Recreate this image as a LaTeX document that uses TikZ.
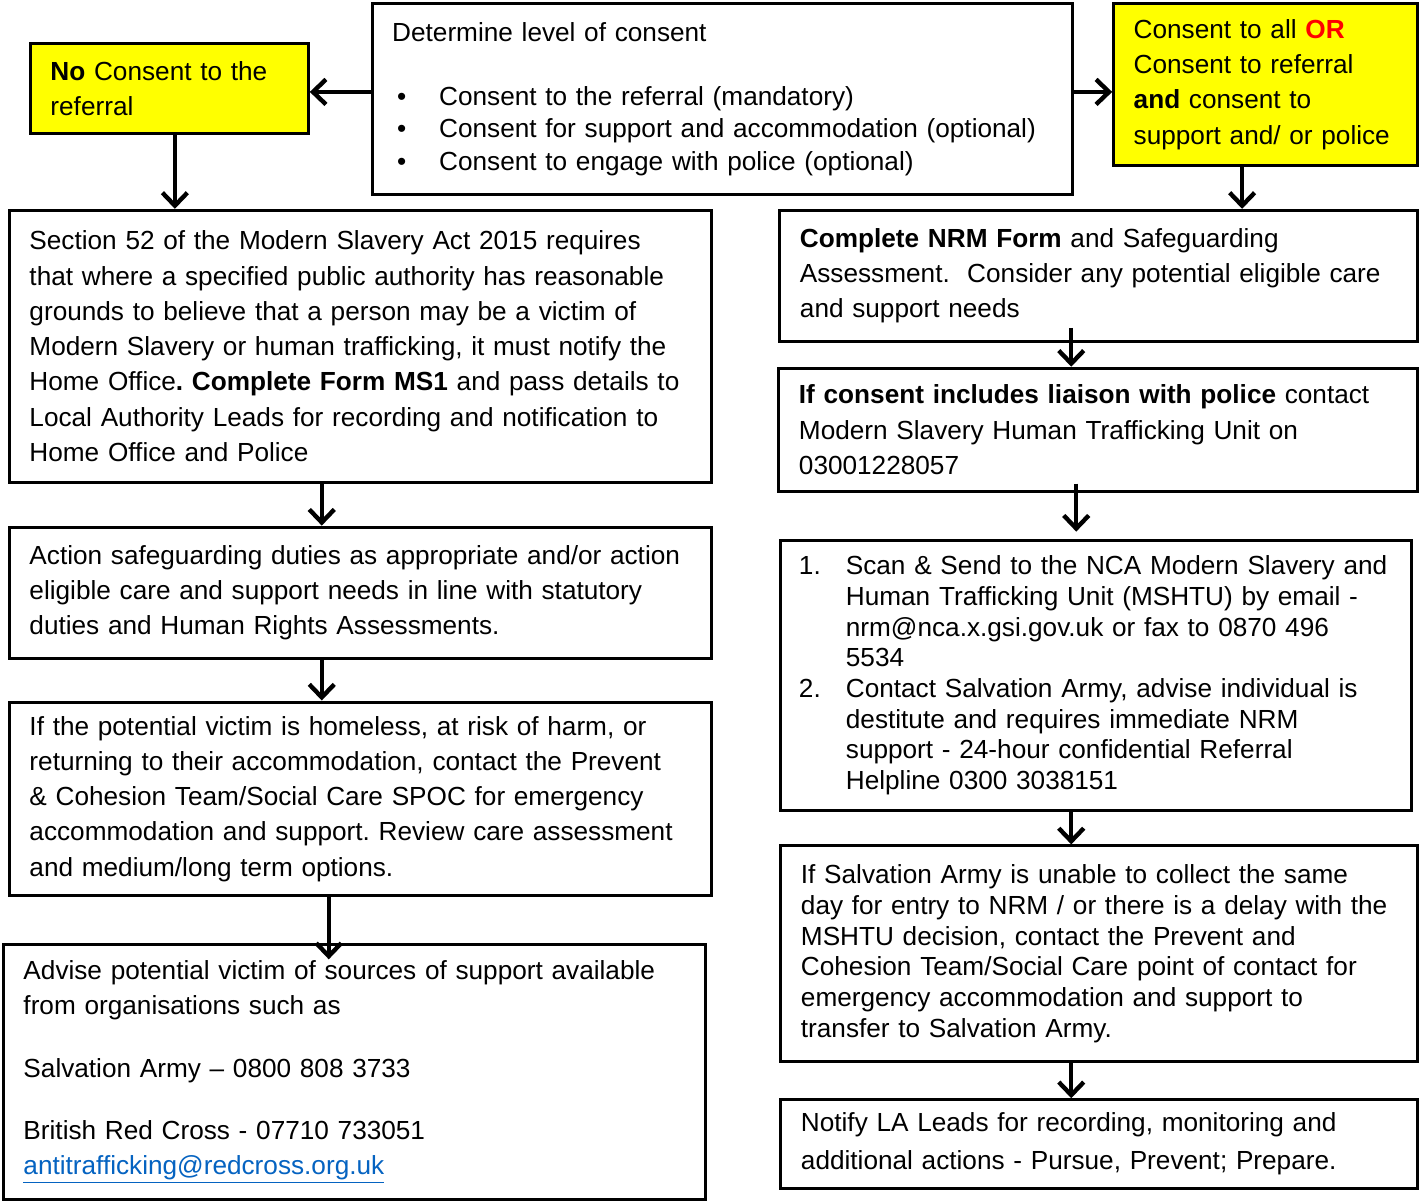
\documentclass[tikz,border=0pt]{standalone}
\usepackage{fontspec}
\setmainfont{Liberation Sans}
\usetikzlibrary{arrows.meta}
\definecolor{linkblue}{RGB}{5,99,193}
\definecolor{consyellow}{RGB}{255,255,0}
\newcommand\bul{\hspace*{2.5pt}\makebox[21pt][l]{\textbullet}}
\newcommand\itemno[1]{\makebox[23.5pt][l]{#1}}
\newcommand\listind{\hspace*{23.5pt}}
\frenchspacing

\tikzset{
  stepbox/.style={draw, line width=1.5pt, anchor=north west, inner xsep=10pt, inner ysep=0pt,
    align=left, font=\fontsize{13.1}{17.65}\selectfont},
  consbox/.style={stepbox, fill=consyellow},
  flow/.style={line width=2.2pt, -{Straight Barb[length=6.5pt,width=12.5pt]}}
}

\begin{document}
\begin{tikzpicture}[x=0.5pt,y=-0.5pt]
\fill[white] (0,0) rectangle (1419,1200);

% top row
\node[stepbox, minimum width=350.5pt, minimum height=95.5pt, text width=330.5pt,
  font=\fontsize{13.1}{16.25}\selectfont] (cons) at (371,2)
  {Determine level of consent\\[15.75pt]
   \bul Consent to the referral (mandatory)\\
   \bul Consent for support and accommodation (optional)\\
   \bul Consent to engage with police (optional)};
\node[consbox, minimum width=139pt, minimum height=45pt, text width=119pt] (nocons) at (29,42)
  {\textbf{No} Consent to the\\referral};
\node[consbox, minimum width=152pt, minimum height=81pt, text width=132pt] (allcons) at (1113,2)
  {Consent to all \textcolor{red}{\textbf{OR}}\\Consent to referral\\\textbf{and} consent to\\support and/ or police};

% left column
\node[stepbox, minimum width=351pt, minimum height=136pt, text width=331pt] (sec) at (8,209)
  {Section 52 of the Modern Slavery Act 2015 requires\\
   that where a specified public authority has reasonable\\
   grounds to believe that a person may be a victim of\\
   Modern Slavery or human trafficking, it must notify the\\
   Home Office\textbf{. Complete Form MS1} and pass details to\\
   Local Authority Leads for recording and notification to\\
   Home Office and Police};
\node[stepbox, minimum width=351pt, minimum height=65.5pt, text width=331pt] (act) at (8,526)
  {Action safeguarding duties as appropriate and/or action\\
   eligible care and support needs in line with statutory\\
   duties and Human Rights Assessments.};
\node[stepbox, minimum width=351pt, minimum height=97pt, text width=331pt] (home) at (8,701)
  {If the potential victim is homeless, at risk of harm, or\\
   returning to their accommodation, contact the Prevent\\
   \& Cohesion Team/Social Care SPOC for emergency\\
   accommodation and support. Review care assessment\\
   and medium/long term options.};
\node[stepbox, minimum width=351pt, minimum height=127.5pt, text width=331pt] (advise) at (2,944)
  {Advise potential victim of sources of support available\\
   from organisations such as\\[13.4pt]
   Salvation Army – 0800 808 3733\\[13.4pt]
   British Red Cross - 07710 733051\\
   {\color{linkblue}\underline{antitrafficking@redcross.org.uk}}};

% right column
\node[stepbox, minimum width=319pt, minimum height=65.5pt, text width=299pt] (nrm) at (779,209)
  {\textbf{Complete NRM Form} and Safeguarding\\
   Assessment.\ \ Consider any potential eligible care\\
   and support needs};
\node[stepbox, minimum width=319.5pt, minimum height=61.5pt, text width=299.5pt] (pol) at (778,367)
  {\textbf{If consent includes liaison with police} contact\\
   Modern Slavery Human Trafficking Unit on\\
   03001228057};
\node[stepbox, minimum width=315.5pt, minimum height=135.5pt, text width=297.5pt, inner xsep=9pt,
  font=\fontsize{13.1}{15.35}\selectfont] (scan) at (780,539)
  {\itemno{1.}Scan \& Send to the NCA Modern Slavery and\\
   \listind Human Trafficking Unit (MSHTU) by email -\\
   \listind nrm@nca.x.gsi.gov.uk or fax to 0870 496\\
   \listind 5534\\
   \itemno{2.}Contact Salvation Army, advise individual is\\
   \listind destitute and requires immediate NRM\\
   \listind support - 24-hour confidential Referral\\
   \listind Helpline 0300 3038151};
\node[stepbox, minimum width=318.5pt, minimum height=108pt, text width=298.5pt,
  font=\fontsize{13.1}{15.35}\selectfont] (sa) at (780,845)
  {If Salvation Army is unable to collect the same\\
   day for entry to NRM / or there is a delay with the\\
   MSHTU decision, contact the Prevent and\\
   Cohesion Team/Social Care point of contact for\\
   emergency accommodation and support to\\
   transfer to Salvation Army.};
\node[stepbox, minimum width=318.5pt, minimum height=44.5pt, text width=298.5pt,
  font=\fontsize{13.1}{19}\selectfont] (la) at (780,1099)
  {Notify LA Leads for recording, monitoring and\\
   additional actions - Pursue, Prevent; Prepare.};

% arrows
\draw[flow] (cons.west |- 0,92) -- (nocons.east |- 0,92);
\draw[flow] (cons.east |- 0,92) -- (allcons.west |- 0,92);
\draw[flow] (nocons.south -| 175,0) -- (sec.north -| 175,0);
\draw[flow] (allcons.south -| 1243,0) -- (nrm.north -| 1243,0);
\draw[flow] (sec.south -| 322,0) -- (act.north -| 322,0);
\draw[flow] (act.south -| 322,0) -- (home.north -| 322,0);
\draw[flow] (home.south -| 329,0) -- ([yshift=-8pt]advise.north -| 329,0);
\draw[flow] ([yshift=7.5pt]nrm.south -| 1072,0) -- (pol.north -| 1072,0);
\draw[flow] ([yshift=4.5pt]pol.south -| 1077,0) -- ([yshift=3.5pt]scan.north -| 1077,0);
\draw[flow] (scan.south -| 1072,0) -- (sa.north -| 1072,0);
\draw[flow] (sa.south -| 1072,0) -- (la.north -| 1072,0);
\end{tikzpicture}
\end{document}
